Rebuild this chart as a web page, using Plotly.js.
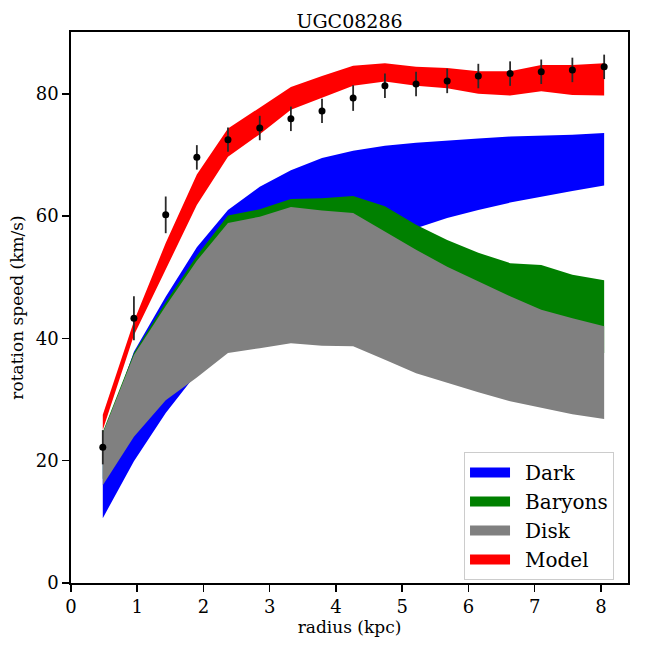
<!DOCTYPE html>
<html>
<head>
<meta charset="utf-8">
<script src="https://cdn.plot.ly/plotly-3.0.1.min.js"></script>
<style>html,body{margin:0;padding:0;background:#fff;}#chart{width:648px;height:648px;}</style>
</head>
<body>
<div id="chart"></div>
<script>
const radius = [0.48, 0.95, 1.43, 1.90, 2.37, 2.85, 3.32, 3.79, 4.26, 4.74, 5.21, 5.68, 6.15, 6.63, 7.10, 7.57, 8.05];
const vObs = [22.2, 43.3, 60.2, 69.6, 72.5, 74.4, 75.9, 77.2, 79.3, 81.3, 81.6, 82.1, 82.9, 83.3, 83.6, 83.9, 84.4];
const vErr = [2.8, 3.6, 3.0, 2.0, 2.0, 2.0, 2.0, 2.0, 2.1, 2.0, 2.0, 2.0, 2.0, 2.0, 2.0, 2.0, 2.0];

const darkLow  = [10.6, 19.9, 27.8, 34.3, 39.5, 43.8, 47.5, 50.6, 53.3, 55.8, 58.0, 59.7, 61.0, 62.2, 63.2, 64.1, 65.0];
const darkHigh = [23.5, 37.8, 46.8, 54.9, 61.0, 64.8, 67.5, 69.5, 70.7, 71.5, 72.0, 72.4, 72.7, 73.0, 73.1, 73.3, 73.6];

const baryonsLow  = [17.0, 25.0, 31.0, 35.0, 39.8, 40.8, 41.7, 42.3, 43.0, 42.6, 41.5, 40.3, 39.3, 38.2, 38.9, 38.1, 37.6];
const baryonsHigh = [24.7, 37.6, 45.9, 53.5, 60.1, 61.1, 62.8, 62.9, 63.3, 61.6, 58.6, 56.1, 54.0, 52.3, 52.0, 50.4, 49.5];

const diskLow  = [16.0, 23.9, 29.9, 33.6, 37.6, 38.4, 39.2, 38.8, 38.7, 36.5, 34.3, 32.7, 31.2, 29.7, 28.6, 27.6, 26.8];
const diskHigh = [24.5, 37.3, 45.3, 52.7, 58.85, 59.9, 61.5, 60.9, 60.5, 57.4, 54.5, 51.7, 49.3, 46.9, 44.7, 43.3, 42.0];

const modelLow  = [25.0, 40.5, 51.2, 61.8, 69.7, 73.4, 77.4, 79.3, 81.3, 82.0, 81.3, 80.9, 80.0, 79.7, 80.4, 79.8, 79.7];
const modelHigh = [27.5, 42.8, 55.6, 66.8, 74.3, 77.8, 81.1, 82.9, 84.6, 85.0, 84.4, 84.2, 83.7, 83.7, 84.7, 84.7, 85.0];

const seriesNames = ['Dark', 'Baryons', 'Disk', 'Model'];
const seriesColors = ['#0000ff', '#008000', '#808080', '#ff0000'];
const tickVals = [0, 1, 2, 3, 4, 5, 6, 7, 8];
const yTickVals = [0, 20, 40, 60, 80];

const FONT = 'DejaVu Serif, Liberation Serif, serif';

function band(i, low, high) {
  return {
    type: 'scatter', mode: 'lines', name: seriesNames[i], showlegend: false,
    x: radius.concat(radius.slice().reverse()),
    y: high.concat(low.slice().reverse()),
    fill: 'toself', fillcolor: seriesColors[i],
    line: {width: 0, color: seriesColors[i]},
    hoverinfo: 'skip'
  };
}

function legendEntry(i) {
  return {
    type: 'scatter', mode: 'lines', name: '\u2002' + seriesNames[i],
    x: [null], y: [null],
    line: {width: 14, color: seriesColors[i]},
    showlegend: true
  };
}

const traces = [
  band(0, darkLow, darkHigh),
  band(1, baryonsLow, baryonsHigh),
  band(2, diskLow, diskHigh),
  band(3, modelLow, modelHigh),
  {
    type: 'scatter', mode: 'markers', showlegend: false,
    x: radius, y: vObs,
    marker: {color: '#000000', size: 7},
    error_y: {type: 'data', array: vErr, visible: true, color: '#2a2a2a', thickness: 1.8, width: 0}
  },
  legendEntry(0), legendEntry(1), legendEntry(2), legendEntry(3)
];

const axisCommon = {
  showline: true, mirror: true, linecolor: '#000', linewidth: 1.7,
  ticks: 'outside', ticklen: 7, tickwidth: 1.6, tickcolor: '#000',
  showgrid: false, zeroline: false,
  tickfont: {family: FONT, size: 18, color: '#000'}
};

const layout = {
  width: 648, height: 648,
  margin: {l: 71, r: 20, t: 32, b: 65},
  paper_bgcolor: '#fff', plot_bgcolor: '#fff',
  title: {text: 'UGC08286', font: {family: FONT, size: 19, color: '#000'}, x: 0.5, xref: 'paper', y: 1, yref: 'paper', yanchor: 'bottom', pad: {b: 4}},
  xaxis: Object.assign({}, axisCommon, {
    range: [0, 8.41], tickvals: tickVals,
    title: {text: 'radius (kpc)', font: {family: FONT, size: 17, color: '#000'}, standoff: 4}
  }),
  yaxis: Object.assign({}, axisCommon, {
    range: [0, 90.1], tickvals: yTickVals,
    title: {text: 'rotation speed (km/s)', font: {family: FONT, size: 17, color: '#000'}, standoff: 8}
  }),
  legend: {
    x: 0.7056, y: 0.2377, xanchor: 'left', yanchor: 'top',
    bgcolor: 'rgba(255,255,255,0.8)', bordercolor: '#cccccc', borderwidth: 1,
    font: {family: FONT, size: 20, color: '#000'},
    tracegroupgap: 0, itemwidth: 40
  },
  showlegend: true
};

Plotly.newPlot('chart', traces, layout, {displayModeBar: false, staticPlot: true});
</script>
</body>
</html>
